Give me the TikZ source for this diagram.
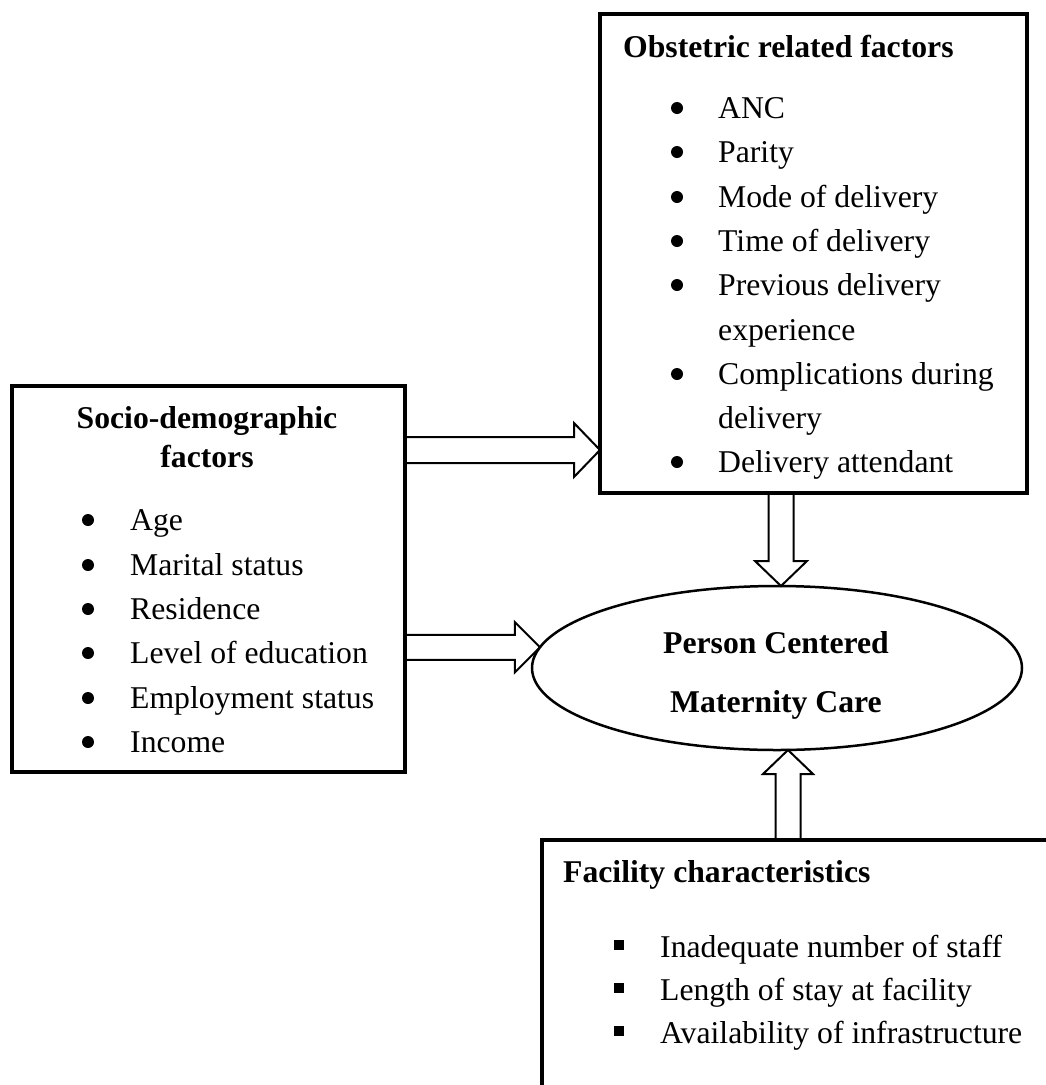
\documentclass[tikz,border=0pt]{standalone}
\usepackage{fontspec}
\setmainfont{Liberation Serif}
\usetikzlibrary{calc,shapes.geometric,backgrounds}
\begin{document}
\begin{tikzpicture}[x=1pt,y=-1pt,
  boxnode/.style={draw, line width=4.5pt, outer sep=0pt, inner sep=0pt},
  boxline/.style={line width=4.5pt, line cap=rect},
  blk/.style={draw, fill=white, line width=2pt, line join=miter},
  txt/.style={inner sep=0pt, anchor=base west, font=\fontsize{31.7}{44}\selectfont},
  hd/.style={txt, font=\fontsize{31.7}{44}\selectfont\bfseries},
  rdot/.style={circle, fill=black, inner sep=0pt, minimum size=12pt},
  sqdot/.style={rectangle, fill=black, inner sep=0pt, minimum size=10pt}]
\useasboundingbox (0,0) rectangle (1045,1085);

% boxes
\node[boxnode, minimum width=427pt, minimum height=479pt] (obs) at (813.5,253.5) {};
\node[boxnode, minimum width=393pt, minimum height=386pt] (soc) at (208.5,579) {};
\node[draw, ellipse, line width=2.5pt, outer sep=0pt, inner sep=0pt,
      minimum width=490pt, minimum height=164pt] (pcmc) at (777,668) {};
\node[inner sep=0pt, outer sep=0pt, minimum width=503pt, minimum height=245pt] (fac) at (793.5,962.5) {};
\draw[boxline] (fac.south west) -- (fac.north west) -- (fac.north east);

% obstetric text
\node[hd] (obsh) at (623,57) {Obstetric related factors};
\foreach \t/\y/\b [count=\i] in {ANC/118/1, Parity/162/1, Mode of delivery/207/1, Time of delivery/251/1,
   Previous delivery/295/1, experience/340/0, Complications during/384/1, delivery/428/0, Delivery attendant/472/1}{
  \node[txt] (obs\i) at (718,\y) {\t};
  \ifnum\b=1 \node[rdot] (obsb\i) at (677,\y-10) {};\fi
}

% socio text
\node[hd, anchor=base] (soch1) at (207,428) {Socio-demographic};
\node[hd, anchor=base] (soch2) at (207,467) {factors};
\foreach \t/\y [count=\i] in {Age/530, Marital status/575, Residence/619, Level of education/663,
   Employment status/708, Income/752}{
  \node[txt] (soc\i) at (130,\y) {\t};
  \node[rdot] (socb\i) at (88,\y-10) {};
}

% ellipse text
\node[hd, anchor=base] (pc1) at (776,653) {Person Centered};
\node[hd, anchor=base] (pc2) at (776,712) {Maternity Care};

% facility text
\node[hd] (fach) at (563,882) {Facility characteristics};
\foreach \t/\y [count=\i] in {Inadequate number of staff/957, Length of stay at facility/1000,
   Availability of infrastructure/1043}{
  \node[txt] (fac\i) at (660,\y) {\t};
  \node[sqdot] (facb\i) at (619,\y-12) {};
}

% block arrows
\begin{scope}[on background layer]
\coordinate (a1s) at (soc.east |- 0,450);
\coordinate (a1t) at (obs.west |- 0,450);
\draw[blk] let \p1=(a1s), \p2=(a1t) in
  (\x1,\y1+13pt) -- (\x2-26pt,\y1+13pt) -- (\x2-26pt,\y1+27pt) -- (\x2,\y1)
  -- (\x2-26pt,\y1-27pt) -- (\x2-26pt,\y1-13pt) -- (\x1,\y1-13pt);

\coordinate (a2t) at (pcmc.175);
\coordinate (a2s) at (soc.east |- a2t);
\draw[blk] let \p1=(a2s), \p2=(a2t) in
  (\x1,\y1+12.5pt) -- (\x2-25pt,\y1+12.5pt) -- (\x2-25pt,\y1+25pt) -- (\x2,\y1)
  -- (\x2-25pt,\y1-25pt) -- (\x2-25pt,\y1-12.5pt) -- (\x1,\y1-12.5pt);

\coordinate (a3t) at ($(pcmc.north)+(4,0)$);
\coordinate (a3s) at (obs.south -| a3t);
\draw[blk] let \p1=(a3s), \p2=(a3t) in
  (\x1-12.5pt,\y1) -- (\x1-12.5pt,\y2+25pt) -- (\x1-26pt,\y2+25pt) -- (\x2,\y2)
  -- (\x1+26pt,\y2+25pt) -- (\x1+12.5pt,\y2+25pt) -- (\x1+12.5pt,\y1);

\coordinate (a4t) at ($(pcmc.south)+(11,0)$);
\coordinate (a4s) at (fac.north -| a4t);
\draw[blk] let \p1=(a4s), \p2=(a4t) in
  (\x1-12.5pt,\y1) -- (\x1-12.5pt,\y2-24pt) -- (\x1-25pt,\y2-24pt) -- (\x2,\y2)
  -- (\x1+25pt,\y2-24pt) -- (\x1+12.5pt,\y2-24pt) -- (\x1+12.5pt,\y1);
\end{scope}
\end{tikzpicture}
\end{document}
